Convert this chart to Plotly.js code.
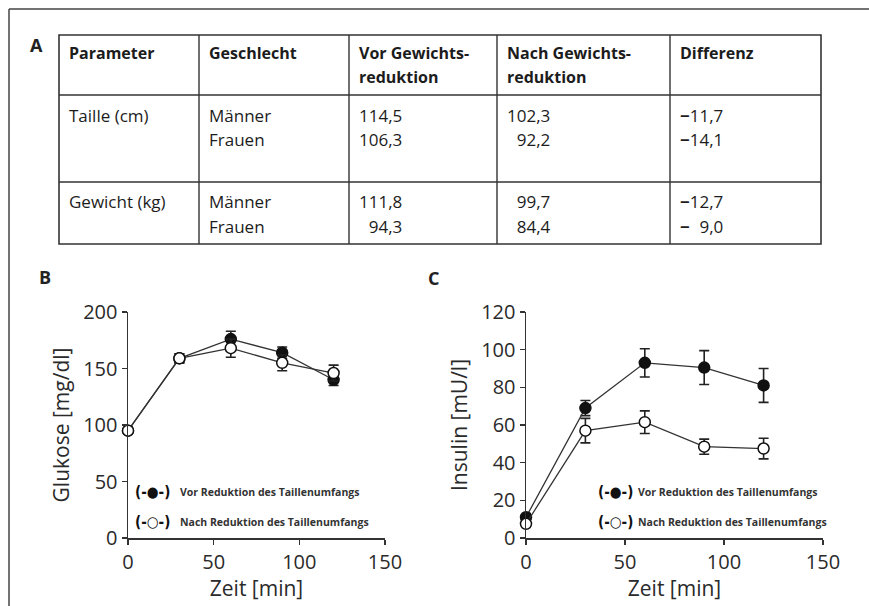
<!DOCTYPE html>
<html>
<head>
<meta charset="utf-8">
<script src="https://cdn.plot.ly/plotly-3.0.1.min.js"></script>
<style>html,body{margin:0;padding:0;background:#fff;}#chart{width:869px;height:606px;}</style>
</head>
<body>
<div id="chart"></div>
<script>
// ---------- data ----------
const tableHeader = ["Parameter", "Geschlecht", "Vor Gewichts-", "Nach Gewichts-", "Differenz"];
const tableHeader2 = ["", "", "reduktion", "reduktion", ""];
const parameters = ["Taille (cm)", "Gewicht (kg)"];
const sexes = ["Männer", "Frauen"];
const vorWerte = [[114.5, 106.3], [111.8, 94.3]];
const nachWerte = [[102.3, 92.2], [99.7, 84.4]];
const differenz = [[-11.7, -14.1], [-12.7, -9.0]];

const zeit = [0, 30, 60, 90, 120];
const glukoseVor = [95, 159, 176, 164, 140];
const glukoseVorErr = [3, 4, 7, 5, 5];
const glukoseNach = [95, 159, 168, 155, 146];
const glukoseNachErr = [3, 4, 8, 7, 7];
const insulinVor = [11, 69, 93, 90.5, 81];
const insulinVorErr = [2, 4, 7.5, 9, 9];
const insulinNach = [7.5, 57, 61.5, 48.5, 47.5];
const insulinNachErr = [1.5, 6.5, 6, 4, 5.5];
const seriesNames = ["Vor Reduktion des Taillenumfangs", "Nach Reduktion des Taillenumfangs"];
const seriesSymbols = ["(-●-)", "(-○-)"];
const panelLabels = ["A", "B", "C"];
const yTitles = ["Glukose [mg/dl]", "Insulin [mU/l]"];
const xTitle = "Zeit [min]";

// ---------- layout helpers ----------
const W = 869, H = 606;
const px = x => x / W;
const py = y => 1 - y / H;
const FONT = "Open Sans, Noto Sans, sans-serif";
const INK = "#1c1c1c";

const fmt = (v, len) => {
  let s = Math.abs(v).toFixed(1).replace('.', ',');
  while (s.length < len) s = '\u2007' + s;
  return s;
};

const annotations = [];
const shapes = [];

// outer frame (top and left)
shapes.push({type: 'line', xref: 'paper', yref: 'paper', x0: px(9), x1: 1, y0: py(9), y1: py(9), line: {color: '#444', width: 1.5}});
shapes.push({type: 'line', xref: 'paper', yref: 'paper', x0: px(9), x1: px(9), y0: py(9), y1: 0, line: {color: '#444', width: 1.5}});

// table geometry
const tableLeft = 59;
const colWidths = [140, 150, 148, 173, 151];
const rowEdges = [35, 95, 182, 244];
const colEdges = [tableLeft];
colWidths.forEach(w => colEdges.push(colEdges[colEdges.length - 1] + w));
const textPad = 8, firstOffset = [18, 20, 20], lineGap = 24.5;

// borders
shapes.push({type: 'rect', xref: 'paper', yref: 'paper', x0: px(colEdges[0]), x1: px(colEdges[5]), y0: py(rowEdges[0]), y1: py(rowEdges[3]), line: {color: '#333', width: 1.6}});
for (let i = 1; i < 5; i++) {
  shapes.push({type: 'line', xref: 'paper', yref: 'paper', x0: px(colEdges[i]), x1: px(colEdges[i]), y0: py(rowEdges[0]), y1: py(rowEdges[3]), line: {color: '#333', width: 1.4}});
}
for (let r = 1; r < 3; r++) {
  shapes.push({type: 'line', xref: 'paper', yref: 'paper', x0: px(colEdges[0]), x1: px(colEdges[5]), y0: py(rowEdges[r]), y1: py(rowEdges[r]), line: {color: '#333', width: 1.4}});
}

function cellText(col, row, line, text, bold) {
  if (!text) return;
  annotations.push({
    xref: 'paper', yref: 'paper', x: px(colEdges[col] + textPad), y: py(rowEdges[row] + firstOffset[row] + line * lineGap),
    xanchor: 'left', yanchor: 'middle', showarrow: false,
    text: bold ? '<b>' + text + '</b>' : text,
    font: {family: FONT, size: bold ? 16 : 17, color: INK}
  });
}
tableHeader.forEach((t, c) => { cellText(c, 0, 0, t, true); cellText(c, 0, 1, tableHeader2[c], true); });
parameters.forEach((p, r) => {
  cellText(0, r + 1, 0, p);
  sexes.forEach((s, k) => {
    cellText(1, r + 1, k, s);
    cellText(2, r + 1, k, fmt(vorWerte[r][k], 5));
    cellText(3, r + 1, k, fmt(nachWerte[r][k], 5));
    cellText(4, r + 1, k, '<b>\u2212</b>' + fmt(differenz[r][k], 4));
  });
});

// panel labels
[[36, 45], [45, 277], [433, 278]].forEach((p, i) => {
  annotations.push({xref: 'paper', yref: 'paper', x: px(p[0]), y: py(p[1]), xanchor: 'center', yanchor: 'middle', showarrow: false,
    text: '<b>' + panelLabels[i] + '</b>', font: {family: FONT, size: 18, color: '#222'}});
});

// legends as text
const legendPos = [{sym: 152, txt: 178}, {sym: 615, txt: 636}];
const legendY = [492, 522];
legendPos.forEach(lp => {
  seriesNames.forEach((n, i) => {
    annotations.push({xref: 'paper', yref: 'paper', x: px(lp.sym), y: py(legendY[i]), xanchor: 'center', yanchor: 'middle', showarrow: false,
      text: '<b>' + seriesSymbols[i] + '</b>', font: {family: 'DejaVu Sans Condensed, DejaVu Sans, sans-serif', size: 15, color: '#111'}});
    annotations.push({xref: 'paper', yref: 'paper', x: px(lp.txt), y: py(legendY[i]), xanchor: 'left', yanchor: 'middle', showarrow: false,
      text: '<b>' + n + '</b>', font: {family: FONT, size: 10.5, color: '#333'}});
  });
});

// ---------- traces ----------
function series(x, y, err, filled, xa, ya) {
  return {
    type: 'scatter', mode: 'lines+markers', x: x, y: y, xaxis: xa, yaxis: ya, cliponaxis: false, showlegend: false,
    line: {color: '#333', width: 1.3},
    marker: {symbol: 'circle', size: 11, color: filled ? '#111' : '#fff', line: {color: '#111', width: 1.5}},
    error_y: {type: 'data', array: err, visible: true, color: '#222', thickness: 1.6, width: 5}
  };
}
const data = [
  series(zeit, glukoseVor, glukoseVorErr, true, 'x', 'y'),
  series(zeit, glukoseNach, glukoseNachErr, false, 'x', 'y'),
  series(zeit, insulinVor, insulinVorErr, true, 'x2', 'y2'),
  series(zeit, insulinNach, insulinNachErr, false, 'x2', 'y2')
];

function xAxis(domain, anchor) {
  return {domain: domain, anchor: anchor, range: [0, 150], tickvals: [0, 50, 100, 150], showgrid: false, zeroline: false,
    showline: true, linecolor: '#333', linewidth: 1.5, ticks: 'outside', ticklen: 5, tickwidth: 1.5, tickcolor: '#333',
    tickfont: {family: FONT, size: 20, color: '#2a2a2a'}, fixedrange: true,
    title: {text: xTitle, font: {family: FONT, size: 21, color: '#2a2a2a'}, standoff: 4}};
}
function yAxis(domain, anchor, range, dtick, title) {
  return {domain: domain, anchor: anchor, range: range, dtick: dtick, showgrid: false, zeroline: false,
    showline: true, linecolor: '#333', linewidth: 1.5, ticks: 'outside', ticklen: 5, tickwidth: 1.5, tickcolor: '#333',
    tickfont: {family: FONT, size: 20, color: '#2a2a2a'}, fixedrange: true,
    title: {text: title, font: {family: FONT, size: 21, color: '#2a2a2a'}, standoff: 8}};
}
const yDom = [py(538), py(312)];
const layout = {
  width: W, height: H, margin: {l: 0, r: 0, t: 0, b: 0}, paper_bgcolor: '#fff', plot_bgcolor: 'rgba(0,0,0,0)',
  showlegend: false,
  xaxis: xAxis([px(128), px(385)], 'y'),
  yaxis: yAxis(yDom, 'x', [0, 200], 50, yTitles[0]),
  xaxis2: xAxis([px(526), px(823)], 'y2'),
  yaxis2: yAxis(yDom, 'x2', [0, 120], 20, yTitles[1]),
  shapes: shapes, annotations: annotations
};
Plotly.newPlot('chart', data, layout, {displayModeBar: false, staticPlot: true});
</script>
</body>
</html>
